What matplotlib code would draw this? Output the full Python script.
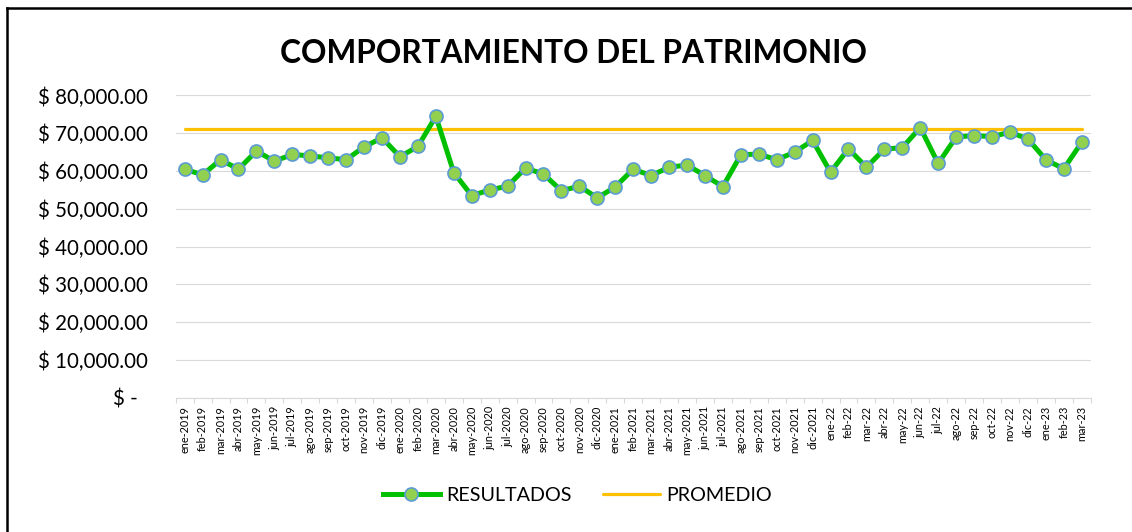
import matplotlib
matplotlib.use('Agg')
import matplotlib.pyplot as plt
from matplotlib.lines import Line2D
from matplotlib.ticker import FuncFormatter, FixedLocator

plt.rcParams['font.family'] = ['Lato', 'DejaVu Sans']

meses = ['ene-2019', 'feb-2019', 'mar-2019', 'abr-2019', 'may-2019', 'jun-2019',
         'jul-2019', 'ago-2019', 'sep-2019', 'oct-2019', 'nov-2019', 'dic-2019',
         'ene-2020', 'feb-2020', 'mar-2020', 'abr-2020', 'may-2020', 'jun-2020',
         'jul-2020', 'ago-2020', 'sep-2020', 'oct-2020', 'nov-2020', 'dic-2020',
         'ene-2021', 'feb-2021', 'mar-2021', 'abr-2021', 'may-2021', 'jun-2021',
         'jul-2021', 'ago-2021', 'sep-2021', 'oct-2021', 'nov-2021', 'dic-2021',
         'ene-22', 'feb-22', 'mar-22', 'abr-22', 'may-22', 'jun-22',
         'jul-22', 'ago-22', 'sep-22', 'oct-22', 'nov-22', 'dic-22',
         'ene-23', 'feb-23', 'mar-23']

resultados = [60500, 59000, 63000, 60500, 65300, 62600, 64400, 64000, 63500, 63000,
              66400, 68800, 63800, 66500, 74500, 59600, 53500, 55000, 56000, 60800,
              59200, 54800, 56000, 52900, 55800, 60500, 58800, 61000, 61600, 58800,
              55900, 64300, 64500, 63000, 65000, 68100, 59700, 65900, 61000, 65800,
              66200, 71500, 62000, 69000, 69400, 69100, 70300, 68500, 63000, 60600,
              67600]

promedio = 71000

x = list(range(len(meses)))

fig = plt.figure(figsize=(11.32, 5.32), dpi=100)
ax = fig.add_axes([0.1552, 0.2524, 0.8083, 0.5681])

ax.plot(x, [promedio] * len(x), color='#FFC000', lw=2.3, label='PROMEDIO', zorder=3,
        solid_capstyle='round')
ax.plot(x, resultados, color='#00C000', lw=3.6, marker='o', markersize=9.4,
        markerfacecolor='#92D050', markeredgecolor='#5B9BD5', markeredgewidth=1.2,
        label='RESULTADOS', zorder=4)

ax.set_xlim(-0.5, len(x) - 0.5)
ax.set_ylim(0, 80000)
ax.set_yticks(range(0, 80001, 10000))
ax.grid(axis='y', color='#D9D9D9', lw=0.8)
ax.set_axisbelow(True)

def fmt(v, pos):
    if v == 0:
        return '$ -  '
    return '$ {:,.2f}'.format(v)

ax.yaxis.set_major_formatter(FuncFormatter(fmt))
ax.tick_params(axis='y', length=0, pad=20, labelsize=14.8, colors='black')

ax.set_xticks(x)
ax.set_xticklabels(meses, rotation=90, fontsize=7.8)
ax.xaxis.set_minor_locator(FixedLocator([i - 0.5 for i in range(len(x) + 1)]))
ax.tick_params(axis='x', which='major', length=0, pad=6)
ax.tick_params(axis='x', which='minor', length=3.5, color='#D9D9D9', width=0.8)

for s in ['top', 'right', 'left']:
    ax.spines[s].set_visible(False)
ax.spines['bottom'].set_color('#D9D9D9')
ax.spines['bottom'].set_linewidth(0.8)

fig.text(0.507, 0.900, 'COMPORTAMIENTO DEL PATRIMONIO', ha='center', va='center',
         fontsize=22.8, fontweight='bold')

h, l = ax.get_legend_handles_labels()
fig.legend(h[::-1], l[::-1], loc='center', bbox_to_anchor=(0.51, 0.068), ncol=2,
           frameon=False, fontsize=14.2, handlelength=2.9, columnspacing=1.6,
           handletextpad=0.3)

# marco del grafico (solo arriba e izquierda visibles)
fig.add_artist(Line2D([0.0062, 1.0], [0.985, 0.985], color='black', lw=1.8,
                      transform=fig.transFigure))
fig.add_artist(Line2D([0.0062, 0.0062], [0.0, 0.985], color='black', lw=1.8,
                      transform=fig.transFigure))

plt.savefig('out.png', dpi=100)
